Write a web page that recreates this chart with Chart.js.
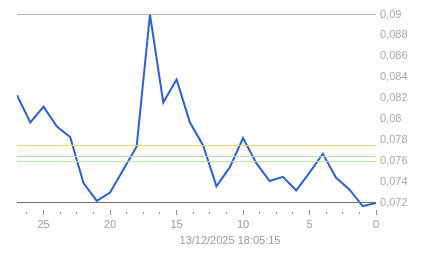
<!DOCTYPE html>
<html>
<head>
<meta charset="utf-8">
<script src="https://cdn.jsdelivr.net/npm/chart.js@4/dist/chart.umd.min.js"></script>
<style>
html,body{margin:0;padding:0;background:#fff;}
#wrap{width:443px;height:258px;position:relative;}
</style>
</head>
<body>
<div id="wrap"><canvas id="c" width="443" height="258"></canvas></div>
<script>
// ---- data ----
const xValues = [27,26,25,24,23,22,21,20,19,18,17,16,15,14,13,12,11,10,9,8,7,6,5,4,3,2,1,0];
const seriesValues = [0.0823,0.0797,0.0812,0.0793,0.0783,0.0739,0.0722,0.0730,0.0752,0.0774,0.0900,0.0816,0.0838,0.0797,0.0775,0.0736,0.0754,0.0782,0.0758,0.0741,0.0745,0.0732,0.0749,0.0767,0.0744,0.0733,0.0717,0.0720];
const refTop = 0.09;
const refBottom = 0.07205;
const refOrange = 0.07749;
const refGreenA = 0.07644;
const refGreenB = 0.07596;
const yTickValues = [0.072,0.074,0.076,0.078,0.08,0.082,0.084,0.086,0.088,0.09];
const yTickLabels = ["0,072","0,074","0,076","0,078","0,08","0,082","0,084","0,086","0,088","0,09"];
const xMajorTicks = [0,5,10,15,20,25];
const xTickLabels = ["0","5","10","15","20","25"];
const xMinorStep = 1.25;
const titleText = "13/12/2025 18:05:15";

const xMin = 0, xMax = 27;
const pts = xValues.map((x,i)=>({x:x,y:seriesValues[i]}));
function hline(v){ return [{x:xMin,y:v},{x:xMax,y:v}]; }

const font = "'Liberation Sans', Arial, sans-serif";

new Chart(document.getElementById('c'), {
  type: 'line',
  data: {
    datasets: [
      {data: hline(refTop), borderColor:'#6e6e6e', borderWidth:1, pointRadius:0},
      {data: hline(refBottom), borderColor:'#6e6e6e', borderWidth:1, pointRadius:0},
      {data: hline(refOrange), borderColor:'#efd27c', borderWidth:1, pointRadius:0},
      {data: hline(refGreenA), borderColor:'#b9e1a8', borderWidth:1, pointRadius:0},
      {data: hline(refGreenB), borderColor:'#b9e1a8', borderWidth:1, pointRadius:0},
      {data: pts, borderColor:'#2d5fd4', borderWidth:2, pointRadius:0, tension:0}
    ]
  },
  options: {
    responsive:false,
    animation:false,
    events:[],
    layout:{padding:{left:17,top:14.5,right:0,bottom:0}},
    plugins:{
      legend:{display:false},
      tooltip:{enabled:false},
      title:{display:true, text:titleText, position:'bottom', color:'#9a9a9a',
        font:{family:font,size:11,weight:'normal'}, padding:{top:4,bottom:10}}
    },
    scales:{
      x:{
        type:'linear', reverse:true, min:xMin, max:xMax,
        border:{display:false},
        grid:{drawOnChartArea:false, drawTicks:true, tickLength:5,
          tickColor:'#909090', tickWidth:1,
          tickBorderDash:(ctx)=>{
            const v = ctx.tick ? ctx.tick.value : 0;
            return xMajorTicks.includes(v) ? [] : [0,2,2,10];
          }},
        afterBuildTicks:(s)=>{
          const t=[];
          for(let v=0; v<=xMax+1e-9; v+=xMinorStep){ t.push({value:Math.round(v*100)/100}); }
          s.ticks=t;
        },
        afterFit:(s)=>{ s.height=20.8; s.paddingLeft=0; s.paddingRight=0; },
        ticks:{autoSkip:false, maxRotation:0, padding:3, color:'#9a9a9a',
          font:{family:font,size:11},
          callback:(v)=>{ const i=xMajorTicks.indexOf(v); return i>=0?xTickLabels[i]:''; }}
      },
      y:{
        position:'right', min:0.07133, max:0.09,
        border:{display:false},
        grid:{display:false, drawTicks:false},
        afterBuildTicks:(s)=>{ s.ticks=yTickValues.map(v=>({value:v})); },
        afterFit:(s)=>{ s.width=67; s.paddingTop=0; s.paddingBottom=0; },
        ticks:{padding:4, color:'#a8a8a8', font:{family:font,size:11},
          callback:(v)=>{ const i=yTickValues.findIndex(t=>Math.abs(t-v)<1e-9); return i>=0?yTickLabels[i]:''; }}
      }
    }
  }
});
</script>
</body>
</html>
